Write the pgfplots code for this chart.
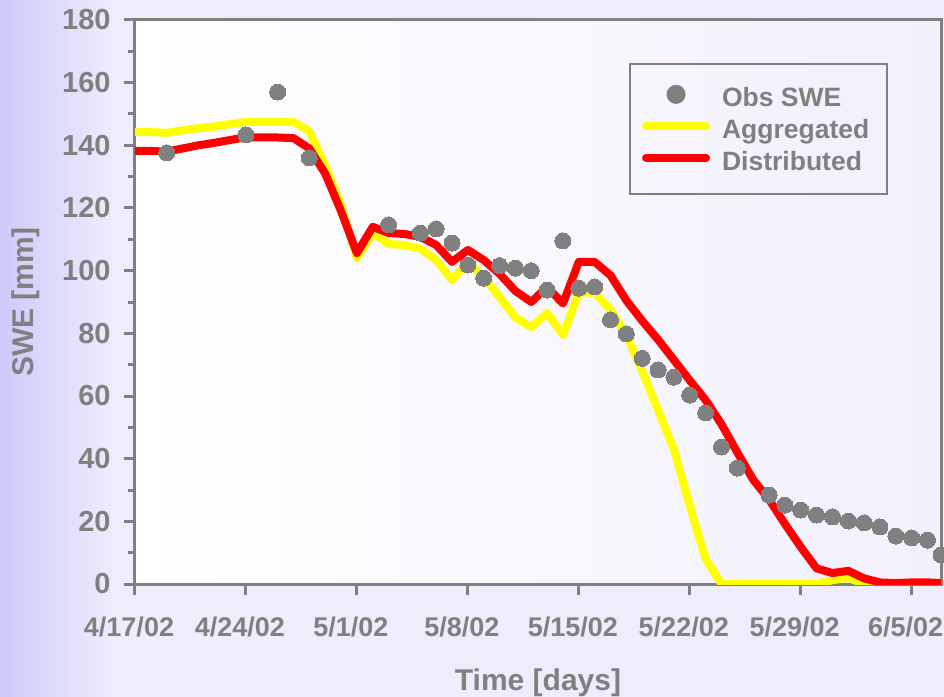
\documentclass[border=0pt]{standalone}
\usepackage{fontspec}
\setmainfont{Liberation Sans}
\usepackage{pgfplots}
\pgfplotsset{compat=1.18}
\definecolor{txtgray}{RGB}{128,128,128}
\definecolor{bgl}{RGB}{238,237,252}
\definecolor{bgleft}{RGB}{206,202,250}
\definecolor{plotr}{RGB}{241,240,252}
\definecolor{yel}{RGB}{255,255,0}
\definecolor{rd}{RGB}{255,0,0}

\pgfplotstableread{
day swe
2 137.6
7 143.3
9 157
11 136
16 114.6
18 112
19 113.3
20 108.8
21 101.8
22 97.6
23 101.6
24 100.8
25 100
26 93.8
27 109.5
28 94.4
29 94.8
30 84.3
31 79.8
32 72
33 68.3
34 66
35 60.3
36 54.6
37 43.7
38 37
40 28.4
41 25.2
42 23.6
43 22
44 21.4
45 20.1
46 19.5
47 18.2
48 15.3
49 14.7
50 14
50.85 9.3
}\obs

\pgfplotstableread{
day swe
0 144.3
1 144.2
2 144
3 144.8
4 145.5
5 146
6 146.8
7 147.5
8 147.5
9 147.5
10 147.5
11 144.5
12 133.5
13 121
14 104
15 112
16 108.5
17 108.2
18 107
19 103.4
20 97
21 102.8
22 98
23 91.6
24 85
25 82
26 86.5
27 79.5
28 93
29 93
30 87.5
31 79.5
32 68
33 55.5
34 43
35 25
36 8
37 0
38 0
39 0
40 0
41 0
42 0
43 0
44 1.2
45 2
46 0
47 0
48 0
49 0
50 0
51 0
}\agg

\pgfplotstableread{
day swe
0 138.2
1 138.2
2 138
3 139
4 140
5 140.8
6 141.7
7 142.6
8 142.5
9 142.5
10 142.3
11 139
12 131
13 119
14 105.6
15 114
16 112
17 111.7
18 110.8
19 108.2
20 102.8
21 106.6
22 103.4
23 99
24 93.5
25 90
26 94.8
27 89.5
28 102.8
29 102.8
30 98.5
31 90.5
32 84
33 78
34 71.5
35 65
36 58.7
37 51
38 42
39 33.3
40 27
41 19.2
42 11.8
43 5
44 3.5
45 4.2
46 1.8
47 0.5
48 0.3
49 0.5
50 0.5
51 0.3
}\dist

\begin{document}
\begin{tikzpicture}
\useasboundingbox (-67.5pt,-56.5pt) rectangle (404.5pt,292pt);
\fill[bgl] (-67.5pt,-56.5pt) rectangle (404.5pt,292pt);
\shade[left color=bgleft, right color=bgl] (-67.5pt,-56.5pt) rectangle (-10pt,292pt);
\begin{axis}[
  scale only axis, width=403pt, height=282pt,
  xmin=0, xmax=50.85, ymin=0, ymax=180,
  axis background/.style={left color=white, right color=plotr},
  axis line style={draw=txtgray, line width=1.5pt},
  xtick={0,7,14,21,28,35,42,49},
  xticklabels={4/17/02,4/24/02,5/1/02,5/8/02,5/15/02,5/22/02,5/29/02,6/5/02},
  ytick={0,20,...,180},
  minor y tick num=1,
  tick align=outside,
  xtick pos=lower, ytick pos=left,
  major tick length=5.5pt, minor tick length=3.3pt,
  every tick/.style={draw=txtgray, line width=1.5pt},
  /pgf/number format/assume math mode=true,
  xticklabel style={font=\bfseries\fontsize{13.5}{13.5}\selectfont, text=txtgray, anchor=north, inner sep=0pt, yshift=-11pt, xshift=-3pt},
  yticklabel style={font=\bfseries\fontsize{14.5}{14.5}\selectfont, text=txtgray, anchor=east, inner sep=0pt, xshift=-6.5pt},
  xlabel={Time [days]},
  ylabel={SWE [mm]},
  xlabel style={font=\bfseries\fontsize{15}{15}\selectfont, text=txtgray, at={(axis description cs:0.5,-0.1750)}, anchor=center},
  ylabel style={font=\bfseries\fontsize{15}{15}\selectfont, text=txtgray, at={(axis description cs:-0.1350,0.5)}, anchor=center, rotate=0},
  legend style={at={(axis description cs:0.613,0.924)}, anchor=north west,
    draw=txtgray, line width=1pt, fill=none,
    font=\bfseries\fontsize{13.25}{13.25}\selectfont, text=txtgray,
    inner xsep=6pt, inner ysep=10.5pt, row sep=4.75pt, column sep=6pt,
    nodes={inner sep=0pt}},
  legend cell align=left,
]
\addplot[only marks, mark=*, mark size=4pt, mark options={fill=txtgray, draw=txtgray, line width=0pt},
  legend image code/.code={\fill[txtgray] (15pt,0.4ex) circle (4.25pt);}]
  table[x=day, y=swe] {\obs};
\addlegendentry{\strut Obs SWE\hspace*{3pt}}
\addplot[yel, line width=4pt, line join=round,
  legend image code/.code={\draw[yel, line width=4pt, line cap=round] (0pt,0.4ex) -- (30pt,0.4ex);}]
  table[x=day, y=swe] {\agg};
\addlegendentry{\strut Aggregated\hspace*{3pt}}
\addplot[rd, line width=4pt, line join=round,
  legend image code/.code={\draw[rd, line width=4pt, line cap=round] (0pt,0.4ex) -- (30pt,0.4ex);}]
  table[x=day, y=swe] {\dist};
\addlegendentry{\strut Distributed\hspace*{3pt}}
\end{axis}
\end{tikzpicture}
\end{document}
